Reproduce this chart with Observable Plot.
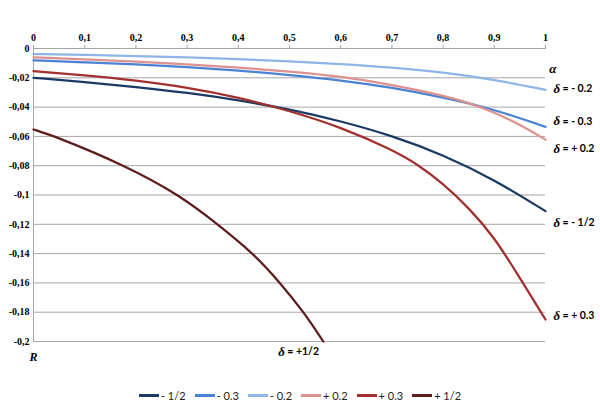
<!DOCTYPE html>
<html><head><meta charset="utf-8">
<script src="https://cdn.jsdelivr.net/npm/d3@7"></script>
<script src="https://cdn.jsdelivr.net/npm/@observablehq/plot@0.6"></script>
<style>
body{margin:0;background:#fff;}
#legend{display:flex;justify-content:center;align-items:center;height:36px;margin-top:5px;font-family:Lato,"Liberation Sans",sans-serif;font-size:11px;color:#222;}
.item{display:flex;align-items:center;margin:0 4.5px;}
.sw{display:inline-block;width:20px;height:3px;margin-right:2px;}
</style></head><body><div id="chart"></div><div id="legend"></div>
<script>
// Series names (δ values)
const seriesNames = ["- 1/2", "- 0.3", "- 0.2", "+ 0.2", "+ 0.3", "+ 1/2"];
const labelTexts  = ["= - 1/2", "= - 0.3", "= - 0.2", "= + 0.2", "= + 0.3", "= +1/2"];

// α grids and R values
const alphaStd = [0, 0.1, 0.2, 0.3, 0.4, 0.5, 0.6, 0.7, 0.8, 0.9, 1];
const rNegHalf = [-0.020, -0.0228, -0.0262, -0.0302, -0.0352, -0.0415, -0.0495, -0.0595, -0.0725, -0.0895, -0.111];
const rNeg03   = [-0.0081, -0.0094, -0.0108, -0.0126, -0.0150, -0.0180, -0.0217, -0.0266, -0.0333, -0.0415, -0.0535];
const rNeg02   = [-0.0038, -0.0044, -0.0051, -0.0060, -0.0072, -0.0087, -0.0106, -0.0130, -0.0162, -0.0212, -0.0283];
const alphaPos02 = [0, 0.1, 0.2, 0.3, 0.4, 0.5, 0.6, 0.7, 0.8, 0.85, 0.9, 0.95, 1];
const rPos02   = [-0.006, -0.0074, -0.0089, -0.0107, -0.0130, -0.0156, -0.019, -0.0248, -0.032, -0.037, -0.0435, -0.052, -0.0622];
const alphaPos03 = [0, 0.1, 0.2, 0.3, 0.4, 0.5, 0.6, 0.7, 0.75, 0.8, 0.85, 0.9, 0.95, 1];
const rPos03   = [-0.0155, -0.0183, -0.0218, -0.0265, -0.0333, -0.0425, -0.0536, -0.0690, -0.0790, -0.0923, -0.1087, -0.1287, -0.1567, -0.185];
const alphaPosHalf = [0, 0.043, 0.18, 0.285, 0.36, 0.43, 0.482, 0.528, 0.566];
const rPosHalf = [-0.0553, -0.06, -0.08, -0.10, -0.12, -0.14, -0.16, -0.18, -0.2];

// Where the right-hand labels sit (R), and the bottom label (α, R)
const labelR = [-0.1188, -0.0497, -0.0277, -0.0682, -0.1825];
const bottomLabel = {alpha: 0.478, r: -0.2072};

// Tick values and labels
const xTicks = [0, 0.1, 0.2, 0.3, 0.4, 0.5, 0.6, 0.7, 0.8, 0.9, 1];
const xTickLabels = ["0", "0,1", "0,2", "0,3", "0,4", "0,5", "0,6", "0,7", "0,8", "0,9", "1"];
const yTicks = [0, -0.02, -0.04, -0.06, -0.08, -0.1, -0.12, -0.14, -0.16, -0.18, -0.2];
const yTickLabels = ["0", "-0,02", "-0,04", "-0,06", "-0,08", "-0,1", "-0,12", "-0,14", "-0,16", "-0,18", "-0,2"];

const colors = ["#1b3a63", "#4a83d3", "#8fb5e6", "#de928f", "#a2302e", "#5e1d1c"];

const seriesData = [
  [alphaStd, rNegHalf], [alphaStd, rNeg03], [alphaStd, rNeg02],
  [alphaPos02, rPos02], [alphaPos03, rPos03], [alphaPosHalf, rPosHalf]
];
const rows = seriesData.flatMap(([a, r], i) => a.map((x, j) => ({name: seriesNames[i], alpha: x, r: r[j]})));
const rightLabels = [0, 1, 2, 3, 4].map((i, k) => ({text: labelTexts[i], r: labelR[k]}));

const serif = "Liberation Serif, Times New Roman, serif";
const sans = "Lato, Liberation Sans, sans-serif";

const chart = Plot.plot({
  width: 600, height: 372,
  marginLeft: 33, marginRight: 55, marginTop: 48, marginBottom: 31,
  style: {fontFamily: serif, fontWeight: "bold", fontSize: "10px", color: "#000", background: "#fff"},
  x: {domain: [0, 1], axis: null},
  y: {domain: [-0.2, 0], axis: null},
  color: {domain: seriesNames, range: colors},
  marks: [
    Plot.gridY(yTicks, {stroke: "#a6a6a6", strokeOpacity: 1, strokeWidth: 1}),
    Plot.ruleX([0], {stroke: "#a6a6a6", strokeWidth: 1}),
    Plot.axisX(xTicks, {anchor: "top", label: null, tickSize: 4, tickPadding: 4, stroke: "#a6a6a6", fill: "#000",
      tickFormat: d => xTickLabels[xTicks.indexOf(d)]}),
    Plot.axisY(yTicks, {anchor: "left", label: null, tickSize: 0, tickPadding: 4, fill: "#000",
      tickFormat: d => yTickLabels[yTicks.indexOf(d)]}),
    Plot.line(rows, {x: "alpha", y: "r", z: "name", stroke: "name", strokeWidth: 2.25, curve: "basis"}),
    Plot.text(["α"], {frameAnchor: "top-right", dx: 11, dy: 15, fontStyle: "italic", fontSize: 13, fontFamily: serif}),
    Plot.text(["R"], {frameAnchor: "bottom-left", dx: -4, dy: 19, fontStyle: "italic", fontSize: 12, fontFamily: serif}),
    Plot.text(rightLabels, {x: () => 1, y: "r", text: () => "δ", textAnchor: "start", dx: 8, fontStyle: "italic", fontSize: 13, fontFamily: serif}),
    Plot.text(rightLabels, {x: () => 1, y: "r", text: "text", textAnchor: "start", dx: 17, fontSize: 10.5, fontFamily: sans}),
    Plot.text([bottomLabel], {x: "alpha", y: "r", text: () => "δ", textAnchor: "start", dx: 0, fontStyle: "italic", fontSize: 13, fontFamily: serif}),
    Plot.text([bottomLabel], {x: "alpha", y: "r", text: () => labelTexts[5], textAnchor: "start", dx: 9, fontSize: 10.5, fontFamily: sans})
  ]
});
document.getElementById("chart").appendChild(chart);

const legend = document.getElementById("legend");
seriesNames.forEach((n, i) => {
  const it = document.createElement("div");
  it.className = "item";
  it.innerHTML = `<span class="sw" style="background:${colors[i]}"></span><span>${n}</span>`;
  legend.appendChild(it);
});
</script>
</body></html>
